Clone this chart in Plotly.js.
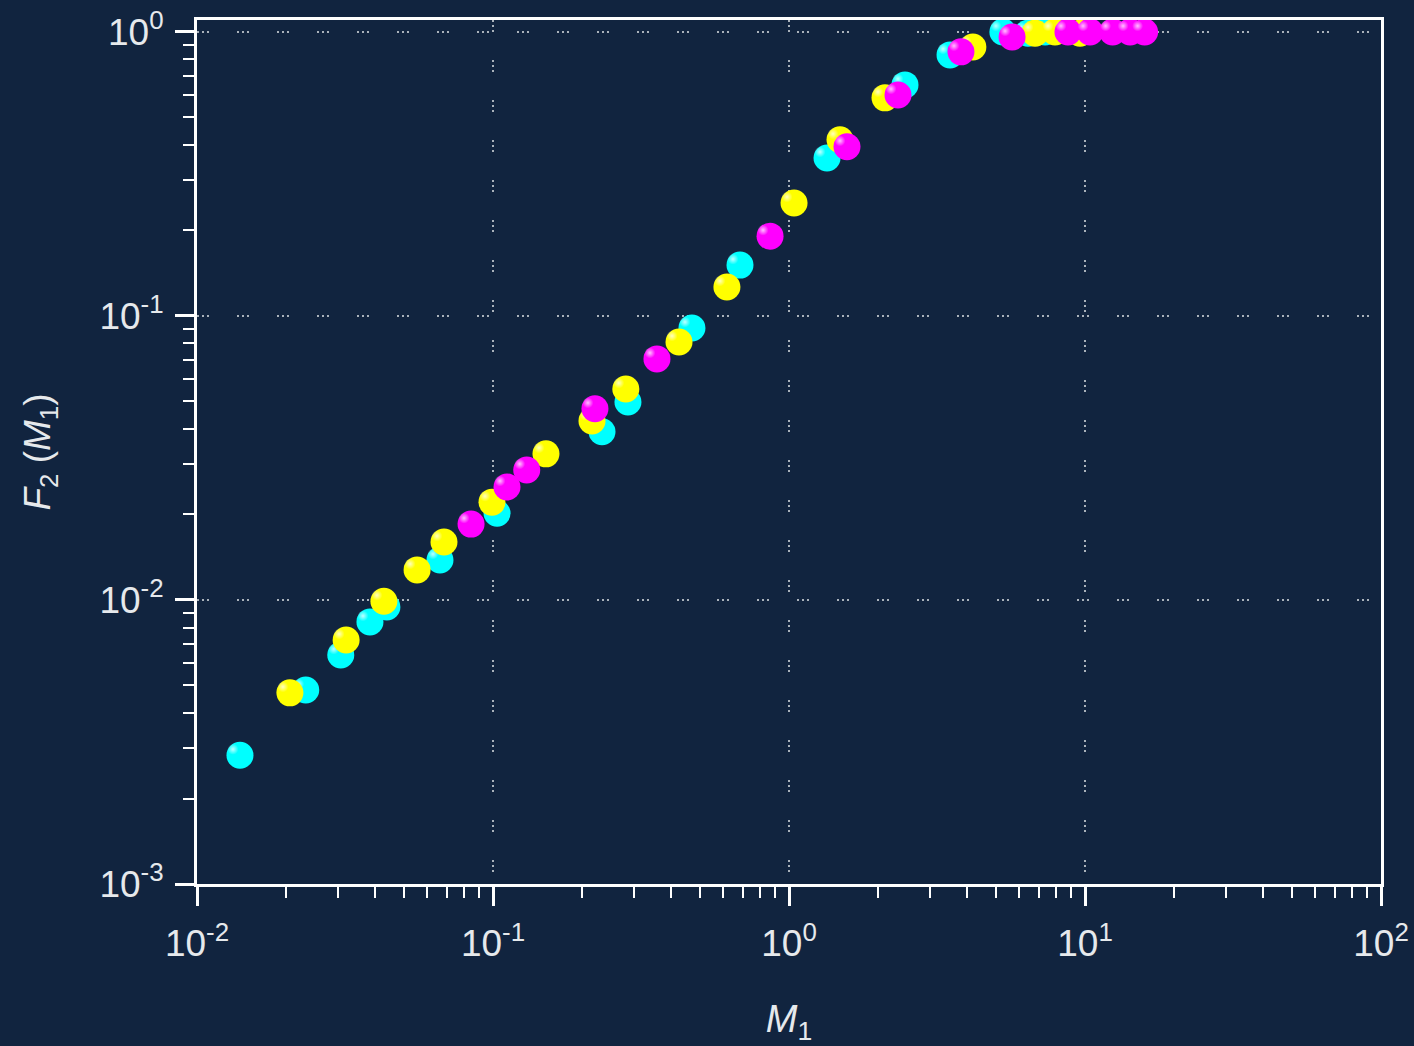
<!DOCTYPE html>
<html>
<head>
<meta charset="utf-8">
<script src="https://cdn.plot.ly/plotly-3.0.1.min.js"></script>
<style>
html,body{margin:0;padding:0;background:#11243f;}
#chart{width:1414px;height:1046px;}
</style>
</head>
<body>
<div id="chart"></div>
<script>
// Series data
const cyanX = [0.01397, 0.0233, 0.0306, 0.0384, 0.0438, 0.0662, 0.1032, 0.2335, 0.2857, 0.470, 0.683, 1.344, 2.465, 3.50, 5.28, 6.42, 7.33];
const cyanY = [0.00284, 0.00482, 0.0064, 0.00837, 0.00945, 0.01383, 0.0202, 0.0391, 0.0498, 0.0907, 0.151, 0.360, 0.651, 0.830, 1.0, 0.99, 1.0];

const yellowX = [0.0206, 0.0319, 0.0428, 0.0554, 0.0683, 0.0992, 0.151, 0.216, 0.281, 0.425, 0.617, 1.04, 1.487, 2.11, 4.18, 6.78, 7.92, 9.62];
const yellowY = [0.00471, 0.00723, 0.0099, 0.01276, 0.016, 0.0221, 0.0327, 0.0427, 0.0553, 0.081, 0.1265, 0.250, 0.417, 0.586, 0.885, 0.99, 1.0, 0.99];

const magentaX = [0.0843, 0.1115, 0.130, 0.221, 0.358, 0.863, 1.57, 2.335, 3.81, 5.67, 8.76, 10.4, 12.4, 14.2, 15.9];
const magentaY = [0.0185, 0.025, 0.0287, 0.0471, 0.0706, 0.191, 0.394, 0.600, 0.851, 0.96, 1.0, 1.0, 1.0, 1.0, 1.0];

const xTickVals = [0.01, 0.1, 1, 10, 100];
const xTickText = ['10<sup>-2</sup>', '10<sup>-1</sup>', '10<sup>0</sup>', '10<sup>1</sup>', '10<sup>2</sup>'];
const yTickVals = [0.001, 0.01, 0.1, 1];
const yTickText = ['10<sup>-3</sup>', '10<sup>-2</sup>', '10<sup>-1</sup>', '10<sup>0</sup>'];

const seriesColors = ['#00ffff', '#ffff00', '#ff00ff'];
const seriesNames = ['cyan', 'yellow', 'magenta'];

const xs = [cyanX, yellowX, magentaX];
const ys = [cyanY, yellowY, magentaY];

// highlight offset in log space (pixels -> decades)
const hx = Math.pow(10, -7 / 296);
const hy = Math.pow(10, 6 / 284);

const traces = [];
for (let i = 0; i < 3; i++) {
  traces.push({
    x: xs[i], y: ys[i], type: 'scatter', mode: 'markers', name: seriesNames[i],
    marker: {size: 27, color: seriesColors[i], line: {width: 0}},
    hoverinfo: 'x+y'
  });
  traces.push({
    x: xs[i].map(v => v * hx), y: ys[i].map(v => v * hy), type: 'scatter', mode: 'markers',
    name: seriesNames[i] + ' shine', showlegend: false, hoverinfo: 'skip',
    marker: {size: 11, color: 'rgba(255,255,255,0)', line: {width: 0},
             gradient: {type: 'radial', color: 'rgba(255,255,255,0.75)'}}
  });
}

const font = {family: 'Liberation Sans, Arial, sans-serif', color: '#e6e9ec'};
const gridDash = '2px,3px,2px,3px,2px,28px';

const layout = {
  width: 1414, height: 1046,
  paper_bgcolor: '#11243f', plot_bgcolor: '#11243f',
  margin: {l: 197, r: 33, t: 20, b: 162},
  showlegend: false,
  font: font,
  xaxis: {
    type: 'log', range: [-2, 2],
    tickmode: 'array', tickvals: xTickVals, ticktext: xTickText,
    tickfont: {size: 37, family: font.family, color: font.color},
    ticklabelstandoff: 6,
    ticks: 'outside', ticklen: 19, tickwidth: 3, tickcolor: '#ffffff',
    showline: true, linecolor: '#ffffff', linewidth: 3, mirror: true,
    showgrid: true, gridcolor: '#aab2bb', gridwidth: 2, griddash: gridDash,
    zeroline: false,
    minor: {dtick: 'D1', ticks: 'outside', ticklen: 11, tickwidth: 2, tickcolor: '#ffffff', showgrid: false},
    title: {text: '<i>M</i><sub>1</sub>', font: {size: 38, family: font.family, color: font.color}, standoff: 44}
  },
  yaxis: {
    type: 'log', range: [-3, 0.042],
    tickmode: 'array', tickvals: yTickVals, ticktext: yTickText,
    tickfont: {size: 37, family: font.family, color: font.color},
    ticklabelstandoff: 4,
    ticks: 'outside', ticklen: 19, tickwidth: 3, tickcolor: '#ffffff',
    showline: true, linecolor: '#ffffff', linewidth: 3, mirror: true,
    showgrid: true, gridcolor: '#aab2bb', gridwidth: 2, griddash: gridDash,
    zeroline: false,
    minor: {dtick: 'D1', ticks: 'outside', ticklen: 11, tickwidth: 2, tickcolor: '#ffffff', showgrid: false},
    title: {text: '<i>F</i><sub>2</sub> (<i>M</i><sub>1</sub>)', font: {size: 37, family: font.family, color: font.color}, standoff: 38}
  }
};

Plotly.newPlot('chart', traces, layout, {displayModeBar: false, staticPlot: true});
</script>
</body>
</html>
